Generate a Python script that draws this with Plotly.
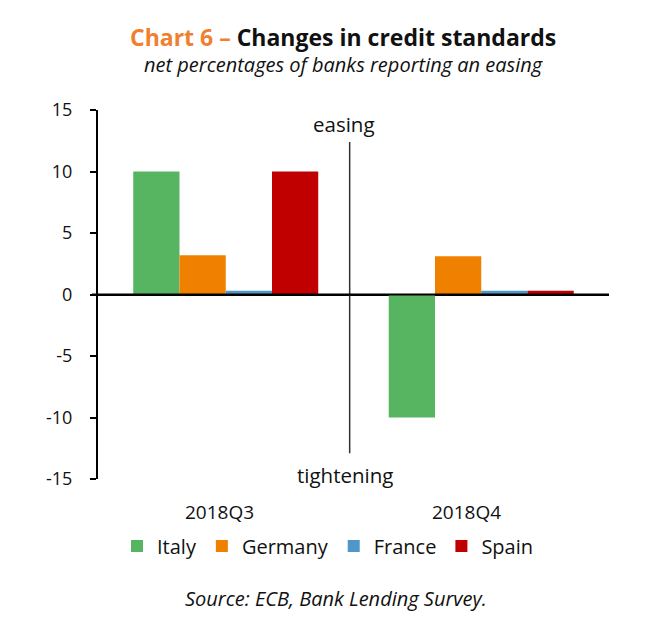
import plotly.graph_objects as go

categories = ["2018Q3", "2018Q4"]
italy = [10.0, -10.0]
germany = [3.2, 3.1]
france = [0.3, 0.3]
spain = [10.0, 0.3]
y_ticks = [15, 10, 5, 0, -5, -10, -15]
label_shift = [-6, -15]  # category labels sit slightly left of the group centres

series = [
    ("Italy", italy, "#57B460"),
    ("Germany", germany, "#F08000"),
    ("France", france, "#4E97C6"),
    ("Spain", spain, "#C00000"),
]

FONT = "Open Sans"

fig = go.Figure()
for name, vals, color in series:
    fig.add_trace(go.Bar(
        x=categories, y=vals, name=name,
        marker=dict(color=color, line=dict(width=0)),
    ))

# page body has an 8px margin; plot area should sit at x 98..609, y 110..479 on screen
fig.update_layout(
    width=656, height=630,
    paper_bgcolor="white", plot_bgcolor="white",
    font=dict(family=FONT, color="#111111", size=18),
    margin=dict(l=90, r=55, t=102, b=159),
    barmode="group", bargap=0.276, bargroupgap=0,
    showlegend=True,
    legend=dict(orientation="h", x=(328 - 98) / 511, xanchor="center",
                y=-(546 - 479) / 369, yanchor="middle",
                font=dict(size=20), traceorder="normal", itemwidth=30),
)

fig.update_yaxes(
    range=[-15, 15], tickvals=y_ticks, ticktext=[str(v) for v in y_ticks],
    showgrid=False, zeroline=True, zerolinecolor="black", zerolinewidth=2,
    showline=True, linecolor="black", linewidth=2,
    ticks="outside", ticklen=6, tickwidth=2, tickcolor="black",
    tickfont=dict(size=18), ticklabelstandoff=14,
)
fig.update_xaxes(
    range=[-0.5, 1.5], showgrid=False, showline=False, ticks="",
    showticklabels=False,
)

for cat, dx in zip(categories, label_shift):
    fig.add_annotation(x=cat, xref="x", y=-(512.5 - 479) / 369, yref="paper",
                       text=cat, showarrow=False, xshift=dx,
                       font=dict(size=19), xanchor="center", yanchor="middle")

# divider between quarters
fig.add_shape(type="line", xref="x", yref="y", x0=0.485, x1=0.485, y0=12.4, y1=-12.9,
              line=dict(color="#333333", width=1.5))
# zero line extending to the left of the axis
fig.add_shape(type="line", xref="paper", yref="y", x0=-0.012, x1=1.0, y0=0, y1=0,
              line=dict(color="black", width=2))

fig.add_annotation(x=0.5, xref="x", y=13.9, yref="y", text="easing", showarrow=False,
                   xshift=-10, font=dict(size=20.5), xanchor="center", yanchor="middle")
fig.add_annotation(x=0.5, xref="x", y=-14.7, yref="y", text="tightening", showarrow=False,
                   xshift=-9, font=dict(size=20.5), xanchor="center", yanchor="middle")

fig.add_annotation(
    x=(343 - 98) / 511, xref="paper", y=1 + (110 - 37) / 369, yref="paper",
    text="<b><span style='color:#F0802F'>Chart 6 – </span>Changes in credit standards</b>",
    showarrow=False, font=dict(size=23, color="#111111"), xanchor="center", yanchor="middle",
)
fig.add_annotation(
    x=(343 - 98) / 511, xref="paper", y=1 + (110 - 65) / 369, yref="paper",
    text="<i>net percentages of banks reporting an easing</i>",
    showarrow=False, font=dict(size=20, color="#111111"), xanchor="center", yanchor="middle",
)
fig.add_annotation(
    x=(336 - 98) / 511, xref="paper", y=-(598 - 479) / 369, yref="paper",
    text="<i>Source: ECB, Bank Lending Survey.</i>",
    showarrow=False, font=dict(size=20, color="#111111"), xanchor="center", yanchor="middle",
)

fig.write_html("out.html")
